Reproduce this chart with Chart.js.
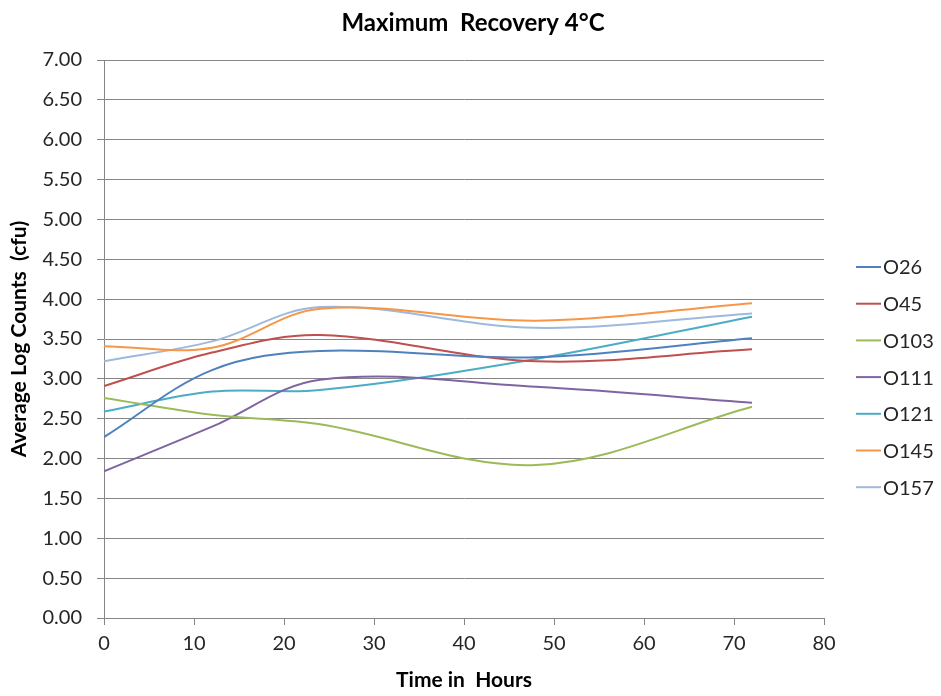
<!DOCTYPE html>
<html>
<head>
<meta charset="utf-8">
<script src="https://cdn.jsdelivr.net/npm/chart.js@4.4.1/dist/chart.umd.min.js"></script>
<style>
  html, body { margin: 0; padding: 0; background: #fff; }
  #wrap { width: 941px; height: 696px; }
</style>
</head>
<body>
<div id="wrap"><canvas id="chart"></canvas></div>
<script>
const hours = [0, 12, 24, 48, 72]
const seriesNames = ['O26', 'O45', 'O103', 'O111', 'O121', 'O145', 'O157']
const o26 = [2.27, 3.11, 3.35, 3.27, 3.51]
const o45 = [2.91, 3.33, 3.55, 3.22, 3.37]
const o103 = [2.76, 2.55, 2.43, 1.92, 2.65]
const o111 = [1.84, 2.40, 2.99, 2.90, 2.70]
const o121 = [2.59, 2.84, 2.86, 3.25, 3.78]
const o145 = [3.41, 3.39, 3.88, 3.73, 3.95]
const o157 = [3.22, 3.47, 3.90, 3.64, 3.82]
const colors = ['#4F81BD', '#C0504D', '#9BBB59', '#8064A2', '#4BACC6', '#F79646', '#9DB9DE']
const chartTitle = 'Maximum  Recovery 4°C'

const allValues = [o26, o45, o103, o111, o121, o145, o157]
const font = 'Lato, "Open Sans", sans-serif'

const datasets = allValues.map((vals, i) => ({
    label: seriesNames[i],
    data: vals.map((v, j) => ({ x: hours[j], y: v })),
    borderColor: colors[i],
    backgroundColor: colors[i],
    borderWidth: 2,
    pointRadius: 0,
    tension: 0.35,
    fill: false,
}))

// title over the whole canvas + legend at the right, like the Excel one
const excelBits = {
    id: 'excelBits',
    afterDraw(chart) {
        const ctx = chart.ctx
        ctx.save()
        ctx.textBaseline = 'middle'

        ctx.font = 'bold 24px ' + font
        ctx.fillStyle = '#000'
        ctx.textAlign = 'center'
        ctx.fillText(chartTitle, 473, 23)

        ctx.font = '20px ' + font
        ctx.textAlign = 'left'
        chart.data.datasets.forEach((ds, i) => {
            const y = 267 + i * 36.7
            ctx.strokeStyle = ds.borderColor
            ctx.lineWidth = 2
            ctx.beginPath()
            ctx.moveTo(856, y)
            ctx.lineTo(881, y)
            ctx.stroke()
            ctx.fillStyle = '#262626'
            ctx.fillText(ds.label, 883, y + 1)
        })
        ctx.restore()
    }
}

new Chart(document.getElementById('chart'), {
    type: 'line',
    data: { datasets: datasets },
    plugins: [excelBits],
    options: {
        responsive: true,
        maintainAspectRatio: false,
        animation: false,
        layout: { padding: { left: 0, right: 117, top: 60, bottom: 0 } },
        plugins: {
            legend: { display: false },
            tooltip: { enabled: false },
            title: { display: false },
        },
        scales: {
            x: {
                type: 'linear',
                min: 0,
                max: 80,
                ticks: { stepSize: 10, color: '#262626', font: { family: font, size: 20 }, padding: 7 },
                grid: { drawOnChartArea: false, drawTicks: true, tickLength: 7, color: '#868686' },
                border: { color: '#868686', width: 1 },
                title: {
                    display: true,
                    text: 'Time in  Hours',
                    color: '#000',
                    font: { family: font, size: 21, weight: 'bold' },
                    padding: { top: 0, bottom: 3 },
                },
                afterFit(scale) { scale.height = 78 },
            },
            y: {
                min: 0,
                max: 7,
                ticks: {
                    stepSize: 0.5,
                    color: '#262626',
                    font: { family: font, size: 20 },
                    padding: 15,
                    callback: (v) => Number(v).toFixed(2),
                },
                grid: { color: '#868686', tickLength: 7 },
                border: { color: '#868686', width: 1 },
                title: {
                    display: true,
                    text: 'Average Log Counts  (cfu)',
                    color: '#000',
                    font: { family: font, size: 21, weight: 'bold' },
                    padding: { top: 7, bottom: 0 },
                },
                afterFit(scale) { scale.width = 104 },
            },
        },
    },
})
</script>
</body>
</html>
